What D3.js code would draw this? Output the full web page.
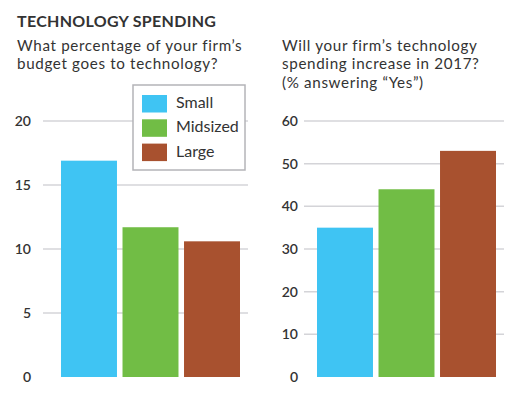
<!DOCTYPE html>
<html>
<head>
<meta charset="utf-8">
<script src="https://cdn.jsdelivr.net/npm/d3@7"></script>
<style>
  body { margin: 0; background: #fff; }
  svg text { font-family: Lato, "Open Sans", sans-serif; fill: #333; }
</style>
</head>
<body>
<svg id="chart" width="531" height="395"></svg>
<script>
// Données
const categories = ['Small', 'Midsized', 'Large'];
const budgetShare = [16.9, 11.7, 10.6];      // % du budget
const spendIncrease = [35, 44, 53];          // % "Yes"
const budgetTicks = [5, 10, 15, 20];
const increaseTicks = [10, 20, 30, 40, 50, 60];
const colors = ['#3fc4f3', '#71bd45', '#a8512f'];

const svg = d3.select('#chart');

// Titraille
svg.append('text')
  .attr('x', 17).attr('y', 27)
  .attr('font-size', 16).attr('font-weight', 'bold')
  .attr('letter-spacing', 0.3)
  .text('TECHNOLOGY SPENDING');

const leftTitle = ['What percentage of your firm\u2019s', 'budget goes to technology?'];
const rightTitle = ['Will your firm\u2019s technology', 'spending increase in 2017?', '(% answering \u201cYes\u201d)'];

// titre sur plusieurs lignes
function multiline(lines, x) {
  svg.append('g').selectAll('text')
    .data(lines).join('text')
    .attr('x', x)
    .attr('y', (d, i) => 51 + i * 18.3)
    .attr('font-size', 15.2)
    .attr('letter-spacing', 0.65)
    .text(d => d);
}

multiline(leftTitle, 17);
multiline(rightTitle, 282);

//---------------------------------------------------------------------------------------

// Un panneau = un graphique en barres
function panel(cfg) {
  const y = d3.scaleLinear().domain([0, cfg.max]).range([377, 121]);
  const x = d3.scaleBand().domain(categories).range([cfg.barX0, cfg.barX1]).paddingInner(0.09).paddingOuter(0);

  const g = svg.append('g');

  // grille
  g.append('g').selectAll('line')
    .data(cfg.ticks).join('line')
    .attr('x1', cfg.gridX0).attr('x2', cfg.gridX1)
    .attr('y1', d => y(d)).attr('y2', d => y(d))
    .attr('stroke', '#d4d4d8').attr('stroke-width', 1.5);

  // étiquettes axe Y
  g.append('g').selectAll('text')
    .data([0].concat(cfg.ticks)).join('text')
    .attr('x', cfg.labelX).attr('y', d => y(d))
    .attr('dy', '0.35em')
    .attr('text-anchor', 'end')
    .attr('font-size', 14).attr('font-weight', 600)
    .text(d => d);

  // barres
  g.append('g').selectAll('rect')
    .data(cfg.values).join('rect')
    .attr('x', (d, i) => x(categories[i]))
    .attr('width', x.bandwidth())
    .attr('y', d => y(d))
    .attr('height', d => y(0) - y(d))
    .attr('fill', (d, i) => colors[i]);
}

panel({ values: budgetShare, max: 20, ticks: budgetTicks, barX0: 61, barX1: 240, gridX0: 43, gridX1: 248, labelX: 31 });
panel({ values: spendIncrease, max: 60, ticks: increaseTicks, barX0: 317, barX1: 496, gridX0: 304, gridX1: 504, labelX: 298 });

//---------------------------------------------------------------------------------------

// Légende
const legend = svg.append('g').attr('transform', 'translate(133,85)');

legend.append('rect')
  .attr('width', 112).attr('height', 85)
  .attr('fill', '#fff')
  .attr('stroke', '#b4b4b8').attr('stroke-width', 1.5);

const items = legend.selectAll('g.item')
  .data(categories).join('g')
  .attr('class', 'item')
  .attr('transform', (d, i) => `translate(9,${10 + i * 24.3})`);

items.append('rect')
  .attr('width', 25).attr('height', 17.5)
  .attr('fill', (d, i) => colors[i]);

items.append('text')
  .attr('x', 34).attr('y', 13)
  .attr('font-size', 16)
  .text(d => d);
</script>
</body>
</html>
